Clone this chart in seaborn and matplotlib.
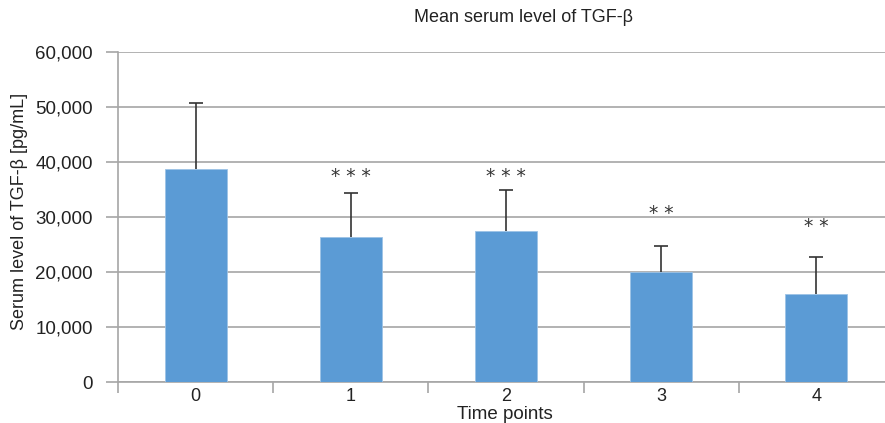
import matplotlib
matplotlib.use("Agg")
import matplotlib.pyplot as plt
import matplotlib.transforms as mtransforms
import seaborn as sns
import pandas as pd
import numpy as np
from matplotlib.ticker import FuncFormatter, FixedLocator

time_points = ["0", "1", "2", "3", "4"]
mean_values = [38700, 26400, 27500, 20000, 16000]
sd_values = [12000, 8000, 7400, 4700, 6700]
significance = ["", "***", "***", "**", "**"]
star_y = [0, 38000, 38000, 31300, 28900]
y_ticks = [0, 10000, 20000, 30000, 40000, 50000, 60000]

df = pd.DataFrame({"time": time_points, "mean": mean_values, "sd": sd_values})

sns.set_theme(style="white")
plt.rcParams["font.family"] = ["Liberation Sans", "DejaVu Sans"]

fig = plt.figure(figsize=(8.85, 4.23), dpi=100)
ax = fig.add_axes([118 / 885, 1 - 382 / 423, (894 - 118) / 885, (382 - 52) / 423])

sns.barplot(data=df, x="time", y="mean", color="#5B9BD5", saturation=1,
            width=0.4, errorbar=None, ax=ax, zorder=3, edgecolor="#9DC3E6", linewidth=0.6)

eb = ax.errorbar(np.arange(len(time_points)), df["mean"],
                 yerr=[np.zeros(len(time_points)), df["sd"]],
                 fmt="none", ecolor="#333333", elinewidth=1.2, capsize=5, capthick=1.2, zorder=4)
caps = eb.lines[1]
if len(caps) == 2:
    caps[0].set_visible(False)

star_trans = ax.transData + mtransforms.ScaledTranslation(0, -3.5 / 100, fig.dpi_scale_trans)
for i, s in enumerate(significance):
    if s:
        ax.text(i, star_y[i], " ".join(s), ha="center", va="center", transform=star_trans,
                fontsize=13.5, color="#333333", family=["DejaVu Sans"], zorder=5)

ax.set_xlim(-0.5, 4.5)
ax.set_ylim(0, 60000)
ax.yaxis.set_major_locator(FixedLocator(y_ticks))
ax.yaxis.set_major_formatter(FuncFormatter(lambda v, p: f"{int(v):,}"))
ax.grid(axis="y", color="#A6A6A6", linewidth=1.2, zorder=0)
ax.set_axisbelow(True)

for sp in ["top", "right"]:
    ax.spines[sp].set_visible(False)
for sp in ["left", "bottom"]:
    ax.spines[sp].set_color("#A6A6A6")
    ax.spines[sp].set_linewidth(1.2)

ax.tick_params(axis="y", which="major", length=9, width=1.2, color="#A6A6A6",
               left=True, labelsize=13.5, labelcolor="#222222", pad=9)
ax.set_xticks(range(len(time_points)))
ax.set_xticklabels(time_points)
ax.set_xticks(np.arange(-0.5, 5, 1), minor=True)
ax.tick_params(axis="x", which="major", length=0, labelsize=13, labelcolor="#222222", pad=4)
ax.tick_params(axis="x", which="minor", length=8, width=1.2, color="#A6A6A6", bottom=True)

ax.set_xlabel("")
ax.set_ylabel("")
fig.text(20 / 885, 1 - 211 / 423, "Serum level of TGF-β [pg/mL]", rotation=90,
         ha="center", va="center", fontsize=13, color="#222222")

fig.text(524 / 885, 1 - 18 / 423, "Mean serum level of TGF-β", ha="center", va="center",
         fontsize=13, color="#222222")
fig.text(505 / 885, 1 - 419 / 423, "Time points", ha="center", va="baseline",
         fontsize=13.5, color="#222222")

fig.savefig("out.png", dpi=100)
